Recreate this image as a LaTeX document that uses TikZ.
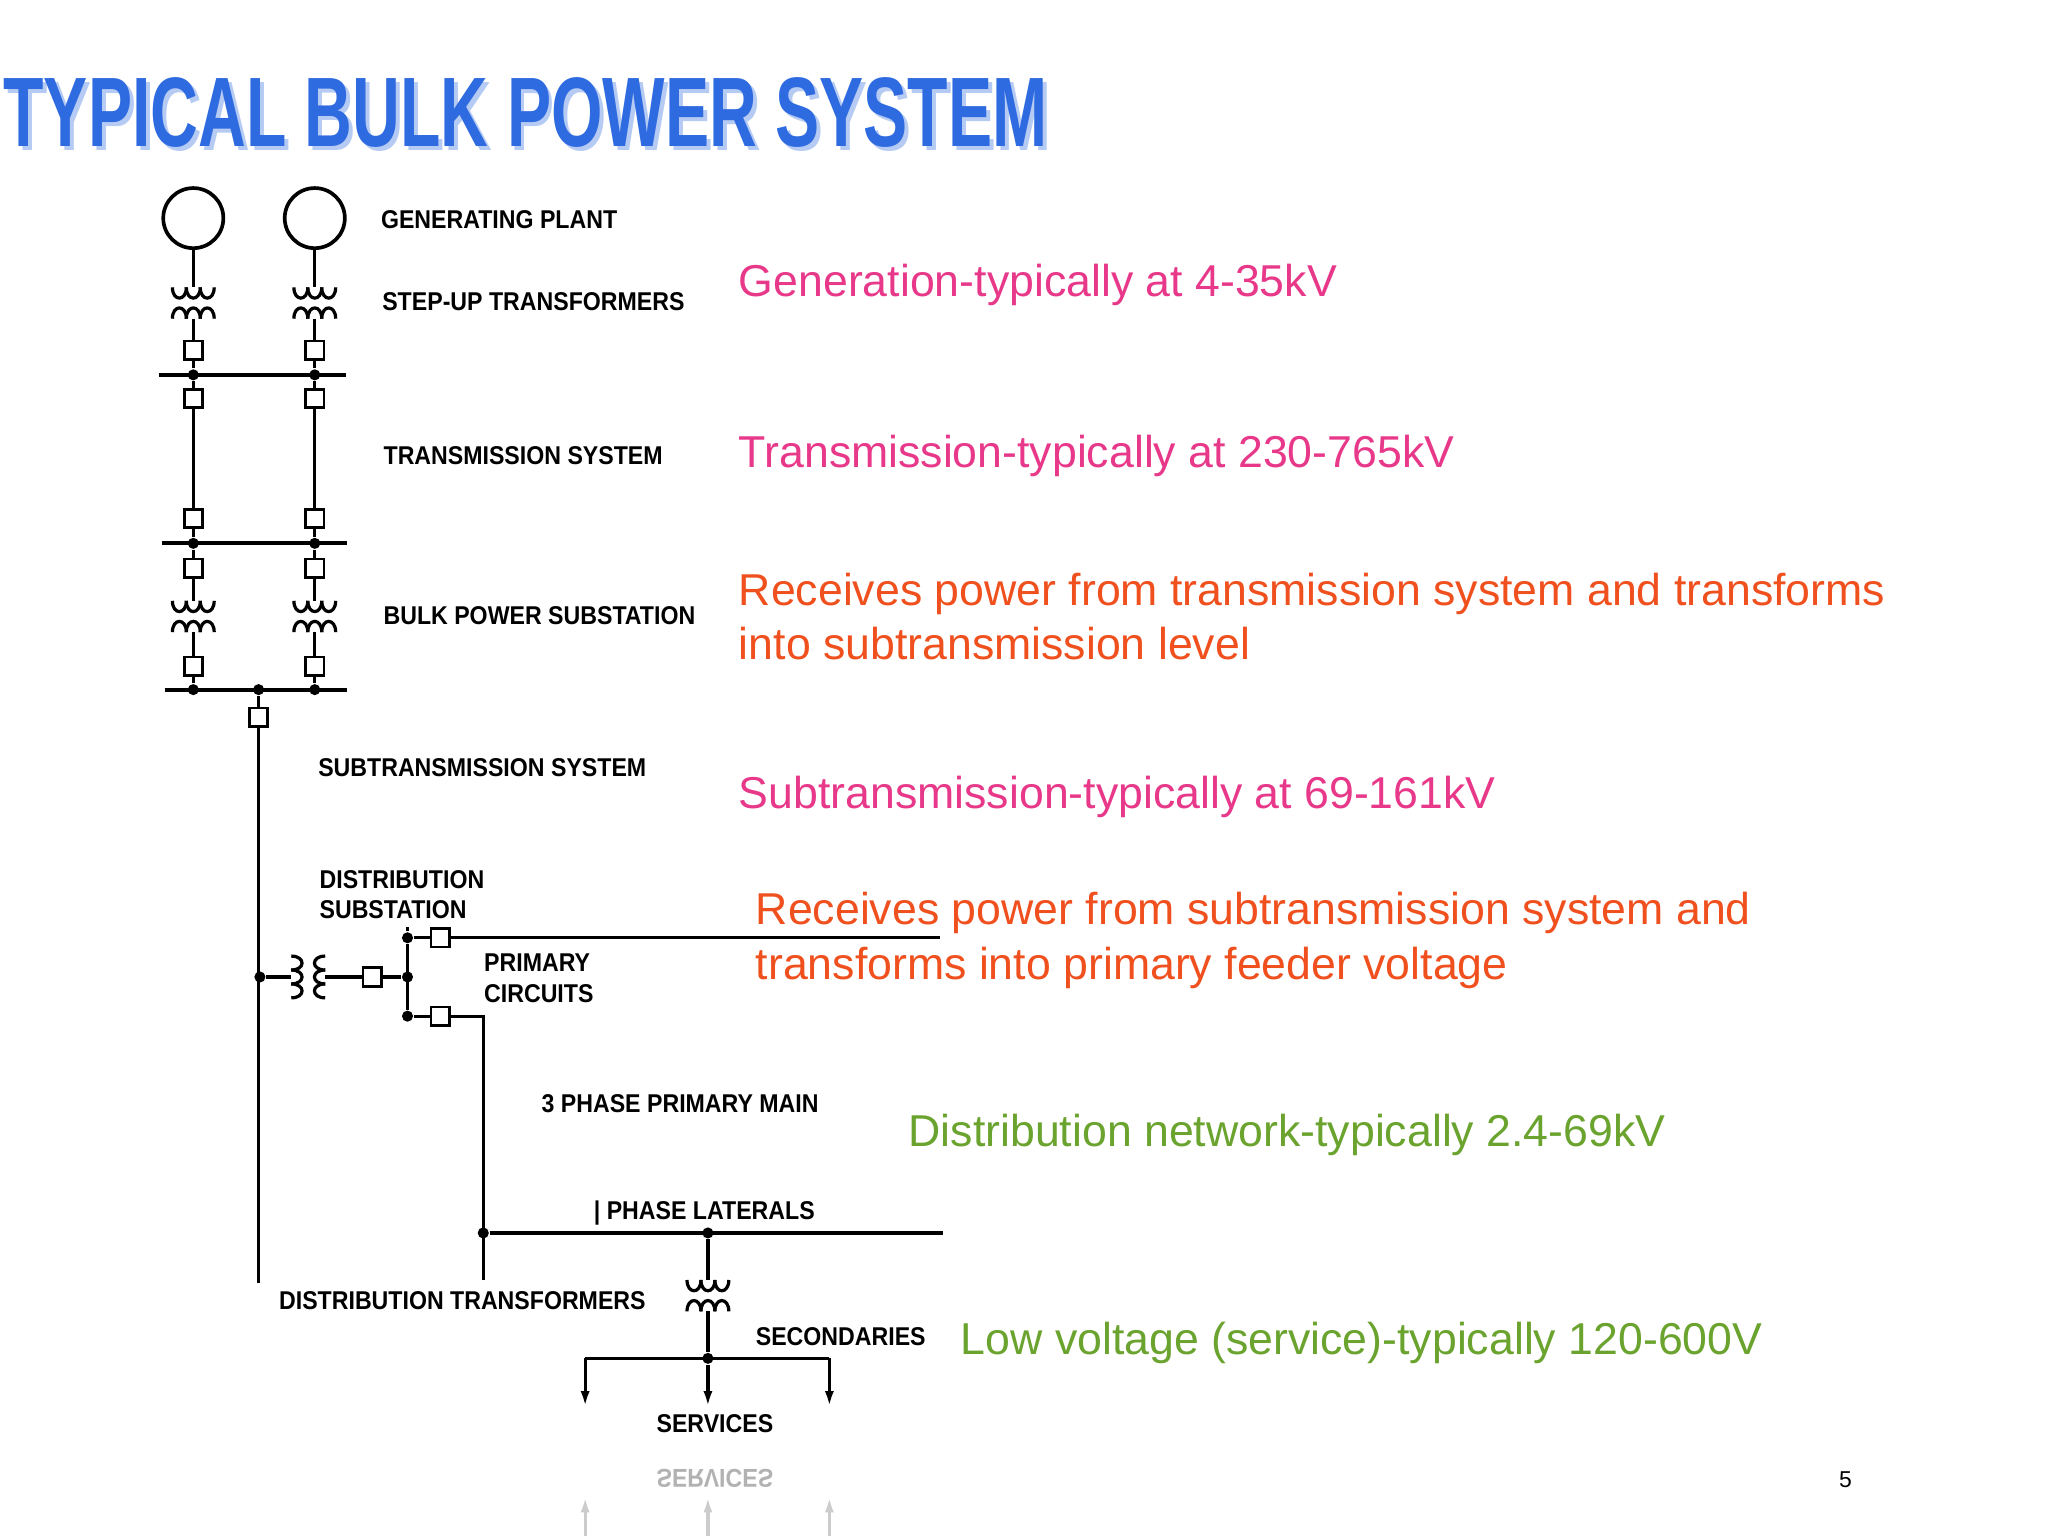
\documentclass[tikz,border=0pt]{standalone}
\usepackage{fontspec}
\setmainfont{Liberation Sans}
\usetikzlibrary{arrows.meta}
\definecolor{pinkc}{HTML}{E8388A}
\definecolor{orangec}{HTML}{F0501E}
\definecolor{greenc}{HTML}{6AA32E}
\definecolor{titlec}{HTML}{2F6BE0}
\newfontfamily\labfont[FakeStretch=0.9]{Liberation Sans Bold}
\newfontfamily\titfont[FakeStretch=0.67]{Liberation Sans Bold}
\tikzset{
  brk/.style={draw,fill=white,minimum size=0.14cm,inner sep=0pt,line width=0.6pt},
  dot/.style={circle,fill,inner sep=0pt,minimum size=0.085cm},
  lab/.style={anchor=west,inner sep=0pt,font=\labfont\fontsize{5.6}{6.6}\selectfont,align=left},
  note/.style={anchor=west,inner sep=0pt,font=\fontsize{9.72}{11.9}\selectfont},
  wire/.style={line width=0.7pt},
  bus/.style={line width=0.9pt},
  pics/xv/.style={code={
    \foreach \a in {-16,-5.33,5.33}{
      \draw[wire] (\a,-6) .. controls (\a,5) and (\a+10.67,5) .. (\a+10.67,-6);
      \draw[wire] (\a,18) .. controls (\a,7) and (\a+10.67,7) .. (\a+10.67,18);
    }
  }},
  pics/xh/.style={code={
    \foreach \a in {-16,-5.33,5.33}{
      \draw[wire] (-14,\a) .. controls (-3,\a) and (-3,\a+10.67) .. (-14,\a+10.67);
      \draw[wire] (12,\a) .. controls (1,\a) and (1,\a+10.67) .. (12,\a+10.67);
    }
  }}
}
\begin{document}
\begin{tikzpicture}[x=0.01cm,y=-0.01cm]
\useasboundingbox[fill=white] (0,0) rectangle (1568,1176);
% title
\node[anchor=base west,inner sep=0pt,text=titlec!35,font=\titfont\fontsize{21.5}{24}\selectfont] at (5,115) {TYPICAL BULK POWER SYSTEM};
\node[anchor=base west,inner sep=0pt,text=titlec,font=\titfont\fontsize{21.5}{24}\selectfont] (title) at (2,112) {TYPICAL BULK POWER SYSTEM};
% generators
\foreach \n/\x in {1/148,2/241}{
  \node[draw,circle,minimum size=0.46cm,inner sep=0pt,line width=0.8pt] (gen\n) at (\x,167) {};
  \draw[wire] (gen\n.south) -- (\x,220);
  \pic at (\x,226) {xv};
  \draw[wire] (\x,244) -- (\x,261);
  \node[brk] (ba\n) at (\x,268) {};
  \node[dot] (d1\n) at (\x,287) {};
  \node[brk] (bb\n) at (\x,305) {};
  \node[brk] (bc\n) at (\x,397) {};
  \node[dot] (d2\n) at (\x,416) {};
  \node[brk] (bd\n) at (\x,435) {};
  \pic at (\x,466) {xv};
  \node[brk] (be\n) at (\x,510) {};
  \node[dot] (d3\n) at (\x,528) {};
  \draw[wire] (ba\n) -- (d1\n) -- (bb\n) -- (bc\n) -- (d2\n) -- (bd\n) -- (\x,460);
  \draw[wire] (\x,484) -- (be\n) -- (d3\n);
}
\draw[bus] (122,287) -- (265,287);
\draw[bus] (124,416) -- (266,416);
\draw[bus] (126,528) -- (266,528);
\node[dot] (d3m) at (198,528) {};
\node[brk] (bs) at (198,549) {};
\coordinate (mainend) at (199,982);
\draw[wire] (d3m) -- (bs) -- (bs.south |- mainend);
% distribution substation
\node[dot] (dsj) at (199,748) {};
\draw[wire] (dsj) -- (223,748);
\pic at (237,748) {xh};
\node[brk] (bds) at (285,748) {};
\node[dot] (pj) at (312,748) {};
\draw[wire] (249,748) -- (bds) -- (pj);
\node[dot] (pt) at (312,718) {};
\node[dot] (pb) at (312,778) {};
\draw[wire] (pt) -- (pb);
\draw[wire] (312,710) -- (pt);
\node[brk] (bpt) at (337,718) {};
\node[brk] (bpb) at (337,778) {};
\coordinate (fe1) at (720,718);
\draw[wire] (pt) -- (bpt) -- (fe1);
\coordinate (cor) at (370,778);
\coordinate (tme) at (370,980);
\draw[wire] (pb) -- (bpb) -- (cor) -- (tme);
\node[dot] (lj) at (370,944) {};
\coordinate (fe2) at (722,944);
\draw[wire] (lj) -- (fe2);
\node[dot] (tj) at (542,944) {};
\draw[wire] (tj) -- (542,980);
\pic at (542,986) {xv};
\node[dot] (sj) at (542,1040) {};
\draw[wire] (542,1004) -- (sj);
\coordinate (sl) at (448,1040);
\coordinate (sr) at (635,1040);
\coordinate (al) at (448,1077);
\coordinate (am) at (542,1077);
\coordinate (ar) at (635,1077);
\draw[wire] (sl) -- (sr);
\draw[wire,-{Latex[length=0.12cm,width=0.07cm]}] (sl) -- (al);
\draw[wire,-{Latex[length=0.12cm,width=0.07cm]}] (sj) -- (am);
\draw[wire,-{Latex[length=0.12cm,width=0.07cm]}] (sr) -- (ar);
% reflection
\node[lab,text=black!30,yscale=-1] (refl) at (502,1132) {SERVICES};
\draw[wire,black!20,-{Latex[length=0.12cm,width=0.07cm]}] (448,1176) -- (448,1146);
\draw[wire,black!20,-{Latex[length=0.12cm,width=0.07cm]}] (542,1176) -- (542,1146);
\draw[wire,black!20,-{Latex[length=0.12cm,width=0.07cm]}] (635,1176) -- (635,1146);
% labels
\node[lab] (l1) at (291,168) {GENERATING PLANT};
\node[lab] (l2) at (292,231) {STEP-UP TRANSFORMERS};
\node[lab] (l3) at (293,349) {TRANSMISSION SYSTEM};
\node[lab] (l4) at (293,471) {BULK POWER SUBSTATION};
\node[lab] (l5) at (243,588) {SUBTRANSMISSION SYSTEM};
\node[lab] (l6) at (244,685) {DISTRIBUTION\\SUBSTATION};
\node[lab] (l7) at (370,749) {PRIMARY\\CIRCUITS};
\node[lab] (l8) at (414,845) {3 PHASE PRIMARY MAIN};
\node[lab] (l9) at (454,929) {| PHASE LATERALS};
\node[lab] (l10) at (213,996) {DISTRIBUTION TRANSFORMERS};
\node[lab] (l11) at (578,1023) {SECONDARIES};
\node[lab] (l12) at (502,1090) {SERVICES};
% notes
\node[note,text=pinkc] (n1) at (565,218) {Generation-typically at 4-35kV};
\node[note,text=pinkc] (n2) at (565,349) {Transmission-typically at 230-765kV};
\node[note,text=orangec,align=left] (n3) at (565,472) {Receives power from transmission system and transforms\\into subtransmission level};
\node[note,text=pinkc] (n4) at (565,610) {Subtransmission-typically at 69-161kV};
\node[note,text=orangec,align=left] (n5) at (578,720) {Receives power from subtransmission system and\\transforms into primary feeder voltage};
\node[note,text=greenc] (n6) at (695,869) {Distribution network-typically 2.4-69kV};
\node[note,text=greenc] (n7) at (735,1028) {Low voltage (service)-typically 120-600V};
\node[inner sep=0pt,font=\fontsize{5}{6}\selectfont] (pg) at (1413,1133) {5};
\end{tikzpicture}
\end{document}
